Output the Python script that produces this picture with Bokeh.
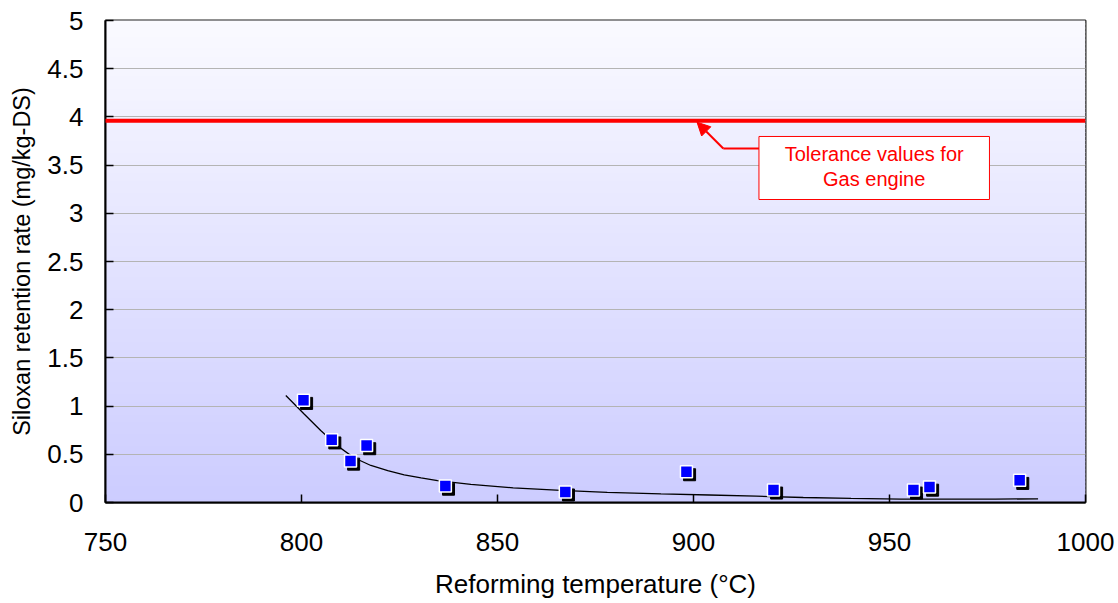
import numpy as np
from bokeh.plotting import figure
from bokeh.models import (FixedTicker, Arrow, NormalHead, BoxAnnotation, Label,
                          ColumnDataSource, Range1d)
from bokeh.transform import dodge
from bokeh.embed import file_html
from bokeh.resources import INLINE

# ---- data ----
temperature = [800.5, 807.7, 812.5, 816.6, 836.7, 867.3, 898.2, 920.4, 956.1, 960.2, 983.2]
retention = [1.06, 0.65, 0.43, 0.59, 0.17, 0.11, 0.32, 0.13, 0.13, 0.16, 0.23]

trend_temperature = [796.0, 800.6, 804.9, 809.1, 813.4, 817.7, 822.0, 826.2, 830.5, 834.7,
                     843.2, 854.0, 866.2, 878.0, 891.7, 904.0, 916.0, 928.0, 940.2,
                     953.0, 965.8, 977.0, 987.9]
trend_retention = [1.11, 0.92, 0.747, 0.59, 0.464, 0.384, 0.33, 0.287, 0.255, 0.228,
                   0.187, 0.152, 0.125, 0.106, 0.09, 0.078, 0.066, 0.052, 0.042,
                   0.036, 0.034, 0.035, 0.038]

tolerance_value = 3.96
tolerance_text = ["Tolerance values for", "Gas engine"]

x_ticks = [750, 800, 850, 900, 950, 1000]
x_tick_labels = ["750", "800", "850", "900", "950", "1000"]
y_ticks = [0, 0.5, 1, 1.5, 2, 2.5, 3, 3.5, 4, 4.5, 5]
y_tick_labels = ["0", "0.5", "1", "1.5", "2", "2.5", "3", "3.5", "4", "4.5", "5"]
x_title = "Reforming temperature (°C)"
y_title = "Siloxan retention rate (mg/kg-DS)"

FONT = "Liberation Sans"

p = figure(width=1118, height=603, output_backend="svg", toolbar_location=None,
           x_range=Range1d(750, 1000), y_range=Range1d(0, 5),
           min_border_left=105, min_border_right=33, min_border_top=20, min_border_bottom=101)
p.background_fill_color = "white"
p.border_fill_color = "white"
p.outline_line_color = "#222222"
p.outline_line_width = 2

# gradient background (white-ish at top to lavender at bottom)
n_bands = 120
edges = np.linspace(0, 5, n_bands + 1)
top_rgb = np.array([250, 250, 255])
bot_rgb = np.array([204, 204, 255])
cols = []
for i in range(n_bands):
    t = (edges[i] + edges[i + 1]) / 2 / 5
    c = bot_rgb + (top_rgb - bot_rgb) * t
    cols.append("#%02x%02x%02x" % tuple(int(round(v)) for v in c))
p.quad(left=750, right=1000, bottom=edges[:-1], top=edges[1:] + 0.01, fill_color=cols,
       line_color=None, level="image")

# grid
p.xgrid.grid_line_color = None
p.ygrid.grid_line_color = "#b4b4b4"
p.ygrid.grid_line_width = 1
p.ygrid.level = "underlay"

# axes
p.xaxis.ticker = FixedTicker(ticks=x_ticks)
p.yaxis.ticker = FixedTicker(ticks=y_ticks)
p.xaxis.major_label_overrides = {t: l for t, l in zip(x_ticks, x_tick_labels)}
p.yaxis.major_label_overrides = {t: l for t, l in zip(y_ticks, y_tick_labels)}
for ax in (p.xaxis[0], p.yaxis[0]):
    ax.axis_line_color = "black"
    ax.axis_line_width = 2
    ax.major_tick_in = 8
    ax.major_tick_out = 0
    ax.major_tick_line_color = "black"
    ax.major_tick_line_width = 1.5
    ax.minor_tick_line_color = None
    ax.major_label_text_font = FONT
    ax.major_label_text_font_size = "26px"
    ax.major_label_text_color = "black"
    ax.axis_label_text_font = FONT
    ax.axis_label_text_font_style = "normal"
    ax.axis_label_text_color = "black"

p.xaxis.axis_label = x_title
p.yaxis.axis_label = y_title
p.xaxis.axis_label_text_font_size = "26px"
p.yaxis.axis_label_text_font_size = "23.5px"
p.xaxis.major_label_standoff = 30
p.yaxis.major_label_standoff = 22
p.xaxis.axis_label_standoff = 15
p.yaxis.axis_label_standoff = 9

# trend curve
p.line(trend_temperature, trend_retention, line_color="black", line_width=1.3)

# markers with drop shadow
src = ColumnDataSource(dict(x=temperature, y=retention))
p.scatter(x=dodge("x", 0.8), y=dodge("y", -0.032), source=src, marker="square",
          size=12, fill_color="black", line_color="black", line_width=1)
p.scatter(x="x", y="y", source=src, marker="square", size=12,
          fill_color="#0000ff", line_color="white", line_width=1.5)

# tolerance line
p.add_layout(Arrow(end=None, x_start=747, y_start=tolerance_value,
                   x_end=1000, y_end=tolerance_value, line_color="#ff0000", line_width=4))

# callout box
p.add_layout(BoxAnnotation(left=916.7, right=975.5, bottom=3.143, top=3.797,
                           fill_color="white", fill_alpha=1.0,
                           line_color="#ff0000", line_width=1, line_alpha=1.0))
p.add_layout(Label(x=946.1, y=3.615, text=tolerance_text[0], text_align="center",
                   text_baseline="middle", text_color="#ff0000", text_font=FONT,
                   text_font_size="20px"))
p.add_layout(Label(x=946.1, y=3.355, text=tolerance_text[1], text_align="center",
                   text_baseline="middle", text_color="#ff0000", text_font=FONT,
                   text_font_size="20px"))
p.add_layout(Arrow(end=None, x_start=916.7, y_start=3.672, x_end=907.6, y_end=3.672,
                   line_color="#ff0000", line_width=2))
p.add_layout(Arrow(end=NormalHead(size=13, fill_color="#ff0000", line_color="#ff0000"),
                   x_start=907.6, y_start=3.672, x_end=900.9, y_end=3.945,
                   line_color="#ff0000", line_width=2))

open("out.html", "w").write(file_html(p, INLINE))
